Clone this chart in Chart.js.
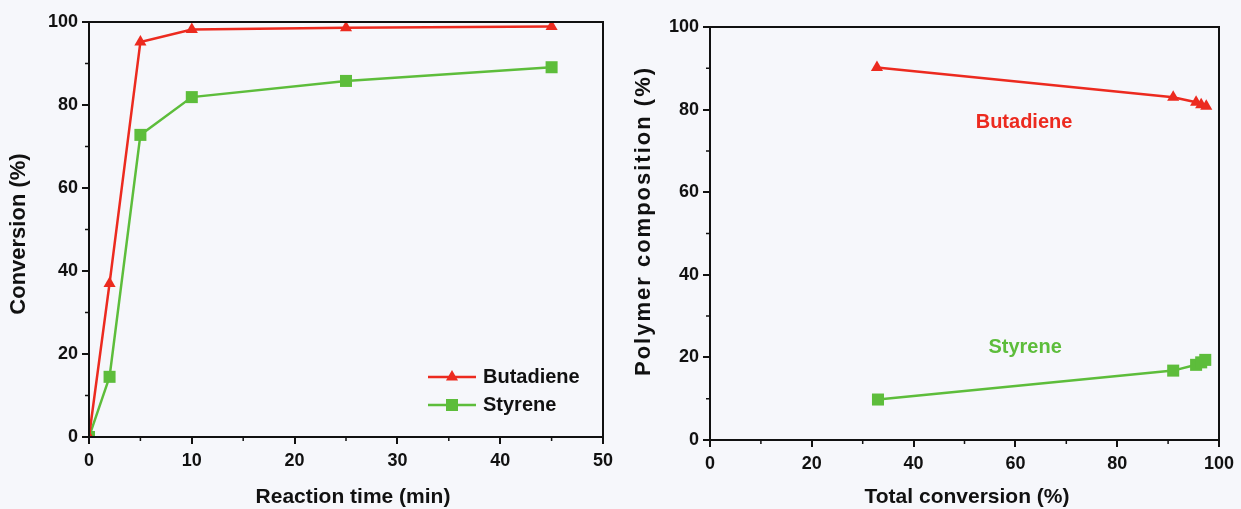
<!DOCTYPE html>
<html>
<head>
<meta charset="utf-8">
<script src="https://cdn.jsdelivr.net/npm/chart.js@4.4.1/dist/chart.umd.min.js"></script>
<style>
  html, body { margin: 0; padding: 0; background: #f6f7fb; }
  #wrap { position: relative; width: 1241px; height: 509px; }
  .box { position: absolute; top: 0; height: 509px; }
</style>
</head>
<body>
<div id="wrap">
  <div class="box" style="left:0;width:625px"><canvas id="left"></canvas></div>
  <div class="box" style="left:625px;width:616px"><canvas id="right"></canvas></div>
</div>
<script>
// left panel: conversion vs reaction time
const timeMin = [0, 2, 5, 10, 25, 45];
const butadieneConv = [0, 37, 95.2, 98.2, 98.6, 98.9];
const styreneConv = [0, 14.5, 72.8, 81.9, 85.8, 89.1];

// right panel: polymer composition vs total conversion
const totalConvBd = [32.8, 91, 95.5, 96.5, 97.5];
const butadieneComp = [90.2, 83, 81.8, 81.2, 80.8];
const totalConvSt = [33, 91, 95.5, 96.5, 97.3];
const styreneComp = [9.8, 16.8, 18.2, 18.8, 19.4];

const xTicksLeft = [0, 10, 20, 30, 40, 50];
const yTicks = [0, 20, 40, 60, 80, 100];
const xTicksRight = [0, 20, 40, 60, 80, 100];

const RED = "#ec2a1f";
const GREEN = "#5dbd3b";
const INK = "#111111";
const FONT = "'Liberation Sans', Arial, sans-serif";

const pts = (xs, ys) => xs.map((x, i) => ({ x, y: ys[i] }));

const framePlugin = {
  id: "frame",
  afterDraw(chart, args, opts) {
    const { ctx, chartArea: ca } = chart;
    ctx.save();
    ctx.strokeStyle = INK;
    ctx.lineWidth = 2;
    ctx.strokeRect(ca.left, ca.top, ca.width, ca.height);

    // minor ticks
    const xs = chart.scales.x;
    const ys = chart.scales.y;
    ctx.lineWidth = 1.5;
    ctx.beginPath();
    for (let v = xs.min + opts.minorX; v < xs.max; v += opts.minorX) {
      if (Math.abs(v % opts.majorX) < 1e-6) continue;
      const px = xs.getPixelForValue(v);
      ctx.moveTo(px, ca.bottom);
      ctx.lineTo(px, ca.bottom + 4);
    }
    for (let v = ys.min + opts.minorY; v < ys.max; v += opts.minorY) {
      if (Math.abs(v % opts.majorY) < 1e-6) continue;
      const py = ys.getPixelForValue(v);
      ctx.moveTo(ca.left, py);
      ctx.lineTo(ca.left - 4, py);
    }
    ctx.stroke();

    // axis titles
    ctx.fillStyle = INK;
    ctx.textAlign = "center";
    ctx.textBaseline = "middle";
    ctx.font = "bold 21px " + FONT;
    ctx.fillText(opts.xTitle, opts.xTitlePos[0], opts.xTitlePos[1]);
    ctx.translate(opts.yTitlePos[0], opts.yTitlePos[1]);
    ctx.rotate(-Math.PI / 2);
    ctx.font = "bold 22px " + FONT;
    if (opts.ySpacing) ctx.letterSpacing = opts.ySpacing;
    ctx.fillText(opts.yTitle, 0, 0);
    ctx.restore();
  }
};

const legendPlugin = {
  id: "boxLegend",
  afterDraw(chart, args, opts) {
    if (!opts.show) return;
    const { ctx } = chart;
    ctx.save();
    chart.data.datasets.forEach((ds, i) => {
      const y = opts.top + i * opts.gap;
      ctx.strokeStyle = ds.borderColor;
      ctx.lineWidth = 2.5;
      ctx.beginPath();
      ctx.moveTo(opts.left, y);
      ctx.lineTo(opts.left + opts.lineLen, y);
      ctx.stroke();
      ctx.fillStyle = ds.backgroundColor;
      Chart.helpers.drawPoint(ctx, {
        pointStyle: ds.pointStyle, radius: ds.pointRadius, rotation: 0, borderWidth: 0
      }, opts.left + opts.lineLen / 2, y);
      ctx.fillStyle = INK;
      ctx.font = "bold 20px " + FONT;
      ctx.textAlign = "left";
      ctx.textBaseline = "middle";
      ctx.fillText(ds.label, opts.left + opts.lineLen + 7, y);
    });
    ctx.restore();
  }
};

const labelPlugin = {
  id: "seriesLabels",
  afterDraw(chart, args, opts) {
    if (!opts.items) return;
    const { ctx } = chart;
    ctx.save();
    ctx.font = "bold 20px " + FONT;
    ctx.textAlign = "center";
    ctx.textBaseline = "middle";
    opts.items.forEach((it) => {
      ctx.fillStyle = it.color;
      ctx.fillText(it.text, chart.scales.x.getPixelForValue(it.x), chart.scales.y.getPixelForValue(it.y));
    });
    ctx.restore();
  }
};

function axis(min, max, ticks, size, isX) {
  return {
    type: "linear",
    min, max,
    afterBuildTicks: (s) => { s.ticks = ticks.map((v) => ({ value: v })); },
    afterFit: (s) => { if (isX) s.height = size; else s.width = size; },
    ticks: {
      color: INK,
      font: { family: FONT, size: 18, weight: "bold" },
      padding: isX ? 6 : 4,
      maxRotation: 0
    },
    grid: {
      drawOnChartArea: false,
      drawTicks: true,
      tickLength: 7,
      color: INK,
      lineWidth: 2
    },
    border: { display: true, color: INK, width: 2 }
  };
}

function series(label, data, color, style, radius) {
  return {
    label, data,
    borderColor: color,
    backgroundColor: color,
    pointBackgroundColor: color,
    pointBorderWidth: 0,
    pointStyle: style,
    pointRadius: radius,
    borderWidth: 2.5,
    tension: 0,
    showLine: true
  };
}

Chart.defaults.animation = false;

new Chart(document.getElementById("left"), {
  type: "scatter",
  data: {
    datasets: [
      series("Butadiene", pts(timeMin, butadieneConv), RED, "triangle", 7),
      series("Styrene", pts(timeMin, styreneConv), GREEN, "rect", 8.5)
    ]
  },
  options: {
    responsive: true,
    maintainAspectRatio: false,
    layout: { padding: { top: 22, right: 22, left: 0, bottom: 0 } },
    plugins: {
      legend: { display: false },
      tooltip: { enabled: false },
      frame: {
        minorX: 5, majorX: 10, minorY: 10, majorY: 20,
        xTitle: "Reaction time (min)", xTitlePos: [353, 497],
        yTitle: "Conversion (%)", yTitlePos: [19, 234]
      },
      boxLegend: { show: true, left: 428, lineLen: 48, top: 377, gap: 28 }
    },
    scales: {
      x: axis(0, 50, xTicksLeft, 72, true),
      y: axis(0, 100, yTicks, 89, false)
    }
  },
  plugins: [framePlugin, legendPlugin]
});

new Chart(document.getElementById("right"), {
  type: "scatter",
  data: {
    datasets: [
      series("Butadiene", pts(totalConvBd, butadieneComp), RED, "triangle", 7),
      series("Styrene", pts(totalConvSt, styreneComp), GREEN, "rect", 8.5)
    ]
  },
  options: {
    responsive: true,
    maintainAspectRatio: false,
    layout: { padding: { top: 27, right: 22, left: 0, bottom: 0 } },
    plugins: {
      legend: { display: false },
      tooltip: { enabled: false },
      frame: {
        minorX: 10, majorX: 20, minorY: 10, majorY: 20,
        xTitle: "Total conversion (%)", xTitlePos: [342, 497],
        yTitle: "Polymer composition (%)", yTitlePos: [19, 221], ySpacing: "2px"
      },
      seriesLabels: {
        items: [
          { text: "Butadiene", x: 61.7, y: 77, color: RED },
          { text: "Styrene", x: 61.9, y: 22.5, color: GREEN }
        ]
      }
    },
    scales: {
      x: axis(0, 100, xTicksRight, 69, true),
      y: axis(0, 100, yTicks, 85, false)
    }
  },
  plugins: [framePlugin, labelPlugin]
});
</script>
</body>
</html>
